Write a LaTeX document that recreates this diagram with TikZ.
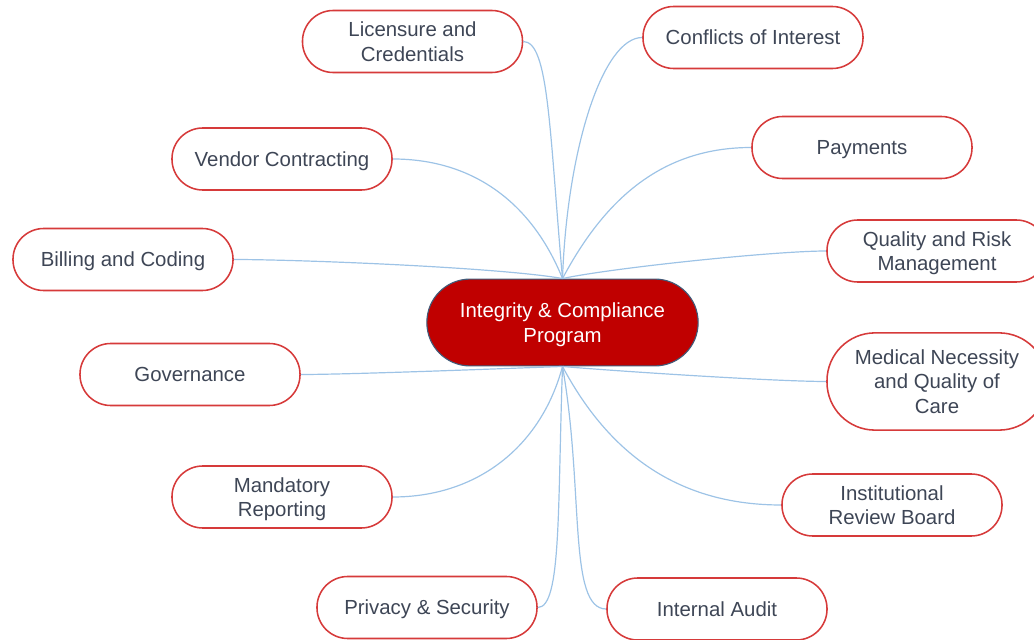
\documentclass[tikz,border=0pt]{standalone}
\usepackage{fontspec}
\setsansfont{Liberation Sans}
\usepackage{tikz}
\definecolor{cRim}{RGB}{214,58,58}
\definecolor{cCore}{RGB}{192,0,0}
\definecolor{cCoreRim}{RGB}{65,90,120}
\definecolor{cText}{RGB}{62,70,86}
\definecolor{cLink}{RGB}{157,195,230}
\tikzset{
	topic/.style ={rectangle, rounded corners=0.77cm, draw=cRim, line width=1.1pt, fill=white, minimum width=5.5cm, minimum height=1.55cm, align=center, text=cText, inner sep=2pt, text depth=0pt},
	core/.style  ={rectangle, rounded corners=1.08cm, draw=cCoreRim, line width=0.8pt, fill=cCore, minimum width=6.78cm, minimum height=2.17cm, align=center, text=white, text depth=0pt},
	link/.style  ={draw=cLink, line width=0.85pt},
}
\begin{document}
\begin{tikzpicture}[x=0.025cm, y=0.025cm,
					every node/.style={font=\sffamily\fontsize{14.5}{17.4}\selectfont}]
	\useasboundingbox (0,0) rectangle (1034,639);
	\node[core] (core) at (562.5,316.5) {Integrity \& Compliance\\Program};
	% left branches
	\node[topic] (lic) at (412.5,597.5) {Licensure and\\Credentials};
	\node[topic] (ven) at (282,480) {Vendor Contracting};
	\node[topic] (bil) at (123,379.5) {Billing and Coding};
	\node[topic] (gov) at (190,264.5) {Governance};
	\node[topic] (mrp) at (282,142) {Mandatory\\Reporting};
	\node[topic] (prv) at (427,31.5) {Privacy \& Security};
	% right branches
	\node[topic] (coi) at (753,601.5) {Conflicts of Interest};
	\node[topic] (pay) at (862,491.5) {Payments};
	\node[topic] (qrm) at (937,388) {Quality and Risk\\Management};
	\node[topic, minimum height=2.43cm, rounded corners=1.2cm] (mnq) at (937,257.5) {Medical Necessity\\and Quality of\\Care};
	\node[topic] (irb) at (892,134) {Institutional\\Review Board};
	\node[topic] (aud) at (717,30) {Internal Audit};
	% connectors
	\draw[link] (core.north) to[out=95, in=0, out looseness=1.6, in looseness=0.27] (lic.east);
	\draw[link] (core.north) to[out=112, in=0] (ven.east);
	\draw[link] (core.north) to[out=170, in=0, looseness=0.5] (bil.east);
	\draw[link] (core.south) to[out=182, in=0, looseness=0.5] (gov.east);
	\draw[link] (core.south) to[out=255, in=0] (mrp.east);
	\draw[link] (core.south) to[out=268, in=0, out looseness=1.5, in looseness=0.25] (prv.east);
	\draw[link] (core.north) to[out=88, in=180, out looseness=1.3, in looseness=0.4] (coi.west);
	\draw[link] (core.north) to[out=62, in=180] (pay.west);
	\draw[link] (core.north) to[out=12, in=180, looseness=0.5] (qrm.west);
	\draw[link] (core.south) to[out=-5, in=180, looseness=0.5] (mnq.west);
	\draw[link] (core.south) to[out=-62, in=180] (irb.west);
	\draw[link] (core.south) to[out=-80, in=180, out looseness=1.3, in looseness=0.4] (aud.west);
\end{tikzpicture}
\end{document}
